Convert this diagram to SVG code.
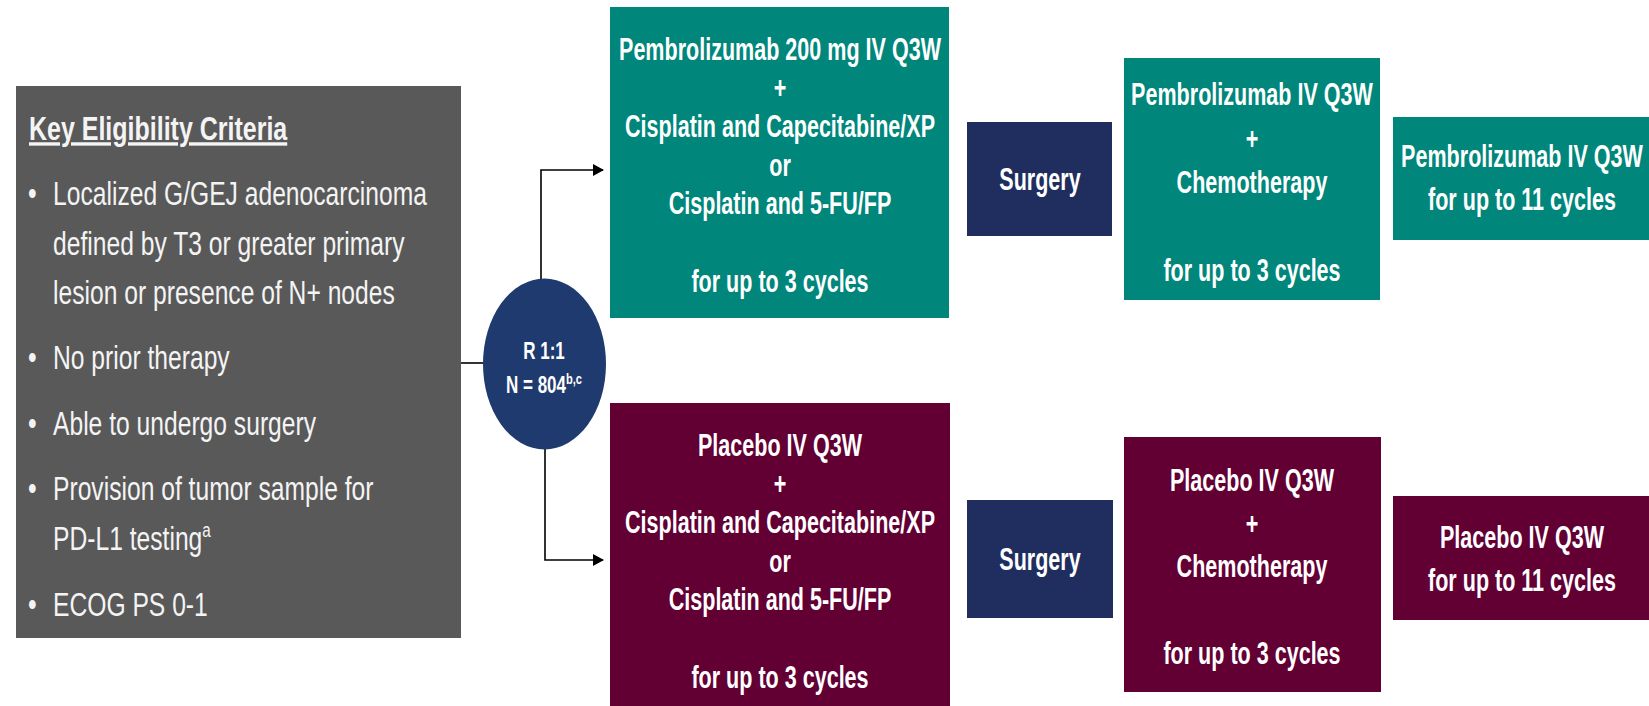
<svg xmlns="http://www.w3.org/2000/svg" width="1649" height="706" viewBox="0 0 1649 706">
  <defs>
    <style>
      text { font-family: "Liberation Sans", Arial, sans-serif; fill: #ffffff; }
      .crit { font-size: 34px; fill: #f4f4f4; }
      .head { font-size: 34px; font-weight: bold; text-decoration: underline; fill: #f4f4f4; }
      .arm { font-size: 31px; font-weight: bold; text-anchor: middle; }
      .rand { font-size: 23px; font-weight: bold; text-anchor: middle; }
      .sup { font-size: 15px; }
      .wire { fill: none; stroke: #000000; stroke-width: 1.6; }
      .gray { fill: #595959; }
      .teal { fill: #00867a; }
      .maroon { fill: #620034; }
      .navy { fill: #1f2e5e; }
    </style>
    <marker id="arrow" markerWidth="12" markerHeight="12" refX="10" refY="6" orient="auto" markerUnits="userSpaceOnUse">
      <path d="M0,0 L11,6 L0,12 z" fill="#000000"/>
    </marker>
  </defs>

  <rect width="1649" height="706" fill="#ffffff"/>

  <!-- connectors -->
  <g id="connectors">
    <path class="wire" d="M461 363 H483"/>
    <path class="wire" d="M541 279 V170 H603" marker-end="url(#arrow)"/>
    <path class="wire" d="M545 449 V560 H603" marker-end="url(#arrow)"/>
  </g>

  <!-- eligibility panel -->
  <g id="criteria">
    <rect class="gray" x="16" y="86" width="445" height="552"/>
    <text class="head" transform="translate(29 0) scale(0.735 1)" y="140">Key Eligibility Criteria</text>
    <g transform="translate(28 0) scale(0.725 1)">
      <text class="crit" y="205">•</text>
      <text class="crit" y="369">•</text>
      <text class="crit" y="435">•</text>
      <text class="crit" y="500">•</text>
      <text class="crit" y="616">•</text>
    </g>
    <g transform="translate(53 0) scale(0.725 1)">
      <text class="crit" y="205">Localized G/GEJ adenocarcinoma</text>
      <text class="crit" y="255">defined by T3 or greater primary</text>
      <text class="crit" y="304">lesion or presence of N+ nodes</text>
      <text class="crit" y="369">No prior therapy</text>
      <text class="crit" y="435">Able to undergo surgery</text>
      <text class="crit" y="500">Provision of tumor sample for</text>
      <text class="crit" y="550">PD-L1 testing<tspan font-size="21" dy="-13">a</tspan></text>
      <text class="crit" y="616">ECOG PS 0-1</text>
    </g>
  </g>

  <!-- randomisation -->
  <g id="randomization">
    <ellipse cx="544.5" cy="364" rx="61.5" ry="85.5" fill="#1f3a6e"/>
    <g transform="translate(544 0) scale(0.74 1)">
      <text class="rand" y="359">R 1:1</text>
      <text class="rand" y="393">N = 804<tspan class="sup" dy="-9">b,c</tspan></text>
    </g>
  </g>

  <!-- pembrolizumab arm -->
  <g id="pembro-neoadjuvant">
    <rect class="teal" x="610" y="7" width="339" height="311"/>
    <g transform="translate(780 0) scale(0.695 1)">
      <text class="arm" y="60">Pembrolizumab 200 mg IV Q3W</text>
      <text class="arm" y="98">+</text>
      <text class="arm" y="137">Cisplatin and Capecitabine/XP</text>
      <text class="arm" y="176">or</text>
      <text class="arm" y="214">Cisplatin and 5-FU/FP</text>
      <text class="arm" y="292">for up to 3 cycles</text>
    </g>
  </g>

  <g id="pembro-surgery">
    <rect class="navy" x="967" y="122" width="145" height="114"/>
    <text class="arm" transform="translate(1040 0) scale(0.695 1)" y="190">Surgery</text>
  </g>

  <g id="pembro-adjuvant-chemo">
    <rect class="teal" x="1124" y="58" width="256" height="242"/>
    <g transform="translate(1252 0) scale(0.695 1)">
      <text class="arm" y="105">Pembrolizumab IV Q3W</text>
      <text class="arm" y="149">+</text>
      <text class="arm" y="193">Chemotherapy</text>
      <text class="arm" y="281">for up to 3 cycles</text>
    </g>
  </g>

  <g id="pembro-adjuvant-mono">
    <rect class="teal" x="1393" y="117" width="256" height="123"/>
    <g transform="translate(1522 0) scale(0.695 1)">
      <text class="arm" y="167">Pembrolizumab IV Q3W</text>
      <text class="arm" y="210">for up to 11 cycles</text>
    </g>
  </g>

  <!-- placebo arm -->
  <g id="placebo-neoadjuvant">
    <rect class="maroon" x="610" y="403" width="340" height="303"/>
    <g transform="translate(780 0) scale(0.695 1)">
      <text class="arm" y="456">Placebo IV Q3W</text>
      <text class="arm" y="494">+</text>
      <text class="arm" y="533">Cisplatin and Capecitabine/XP</text>
      <text class="arm" y="572">or</text>
      <text class="arm" y="610">Cisplatin and 5-FU/FP</text>
      <text class="arm" y="688">for up to 3 cycles</text>
    </g>
  </g>

  <g id="placebo-surgery">
    <rect class="navy" x="967" y="500" width="146" height="118"/>
    <text class="arm" transform="translate(1040 0) scale(0.695 1)" y="570">Surgery</text>
  </g>

  <g id="placebo-adjuvant-chemo">
    <rect class="maroon" x="1124" y="437" width="257" height="255"/>
    <g transform="translate(1252 0) scale(0.695 1)">
      <text class="arm" y="491">Placebo IV Q3W</text>
      <text class="arm" y="534">+</text>
      <text class="arm" y="577">Chemotherapy</text>
      <text class="arm" y="664">for up to 3 cycles</text>
    </g>
  </g>

  <g id="placebo-adjuvant-mono">
    <rect class="maroon" x="1393" y="496" width="256" height="124"/>
    <g transform="translate(1522 0) scale(0.695 1)">
      <text class="arm" y="548">Placebo IV Q3W</text>
      <text class="arm" y="591">for up to 11 cycles</text>
    </g>
  </g>
</svg>
